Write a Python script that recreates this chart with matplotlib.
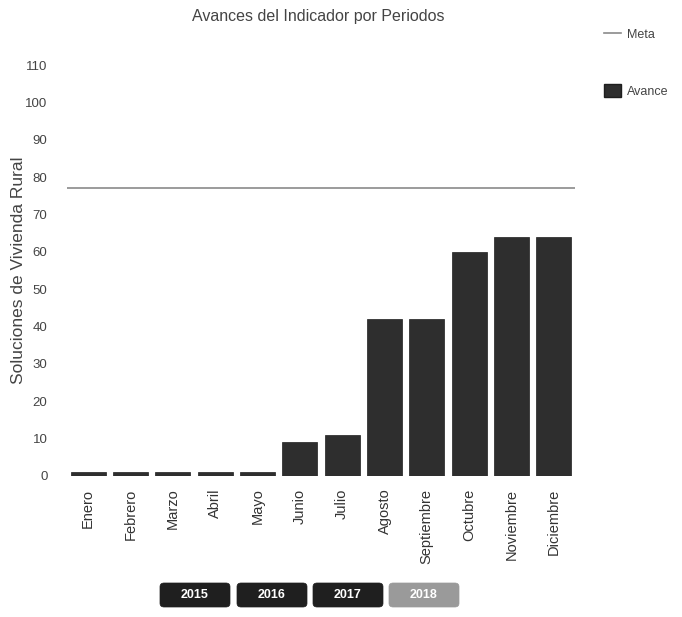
import matplotlib
matplotlib.use("Agg")
import matplotlib.pyplot as plt
from matplotlib.patches import FancyBboxPatch
from matplotlib.lines import Line2D
from matplotlib.patches import Patch

plt.rcParams['font.family'] = ['Liberation Sans', 'DejaVu Sans']

months = ["Enero", "Febrero", "Marzo", "Abril", "Mayo", "Junio", "Julio",
          "Agosto", "Septiembre", "Octubre", "Noviembre", "Diciembre"]
avance = [1, 1, 1, 1, 1, 9, 11, 42, 42, 60, 64, 64]
meta = 77
yticks = [0, 10, 20, 30, 40, 50, 60, 70, 80, 90, 100, 110]
years = ["2015", "2016", "2017", "2018"]
active_year = "2018"

W, H = 682, 617
fig = plt.figure(figsize=(W / 100, H / 100), dpi=100)
ax = fig.add_axes([67 / W, (H - 476) / H, (575 - 67) / W, (476 - 65) / H])

x = list(range(len(months)))
ax.bar(x, avance, width=0.83, color="#2e2e2e", edgecolor="#1e1e1e", linewidth=0.5)
ax.axhline(meta, color="#8a8a8a", linewidth=1.2)

ax.set_xlim(-0.5, len(months) - 0.5)
ax.set_ylim(0, 110)
ax.set_yticks(yticks)
ax.set_yticklabels([str(v) for v in yticks], fontsize=9.5, color="#444444")
ax.set_xticks(x)
ax.set_xticklabels(months, rotation=90, fontsize=10.5, color="#333333")
ax.tick_params(axis="y", length=0, pad=14)
ax.tick_params(axis="x", length=0, pad=9)
for s in ax.spines.values():
    s.set_visible(False)

fig.text(19 / W, 1 - 270 / H, "Soluciones de Vivienda Rural", rotation=90,
         ha="center", va="center", fontsize=12.5, color="#444444")
fig.text(318 / W, 1 - 16 / H, "Avances del Indicador por Periodos",
         ha="center", va="center", fontsize=11.5, color="#444444")

# legend
handles = [Line2D([0], [0], color="#8a8a8a", linewidth=1.2),
           Patch(facecolor="#2e2e2e", edgecolor="#1e1e1e")]
leg = fig.legend(handles, ["Meta", "Avance"], loc="upper left",
                 bbox_to_anchor=(593 / W, 1 - 16 / H), frameon=False,
                 fontsize=9, labelspacing=3.4, handlelength=1.3,
                 handleheight=1.3, handletextpad=0.5, labelcolor="#444444")

# year buttons
bx = [160, 237, 313, 389]
for xs, yr in zip(bx, years):
    col = "#9a9a9a" if yr == active_year else "#1f1f1f"
    p = FancyBboxPatch((xs / W, 1 - 607 / H), 70 / W, 24 / H,
                       boxstyle="round,pad=0,rounding_size=0.006",
                       transform=fig.transFigure, facecolor=col,
                       edgecolor=col, linewidth=0.5)
    fig.add_artist(p)
    fig.text((xs + 35) / W, 1 - 595 / H, yr, ha="center", va="center",
             fontsize=9, color="white", fontweight="bold")

fig.savefig("out.png", dpi=100)
